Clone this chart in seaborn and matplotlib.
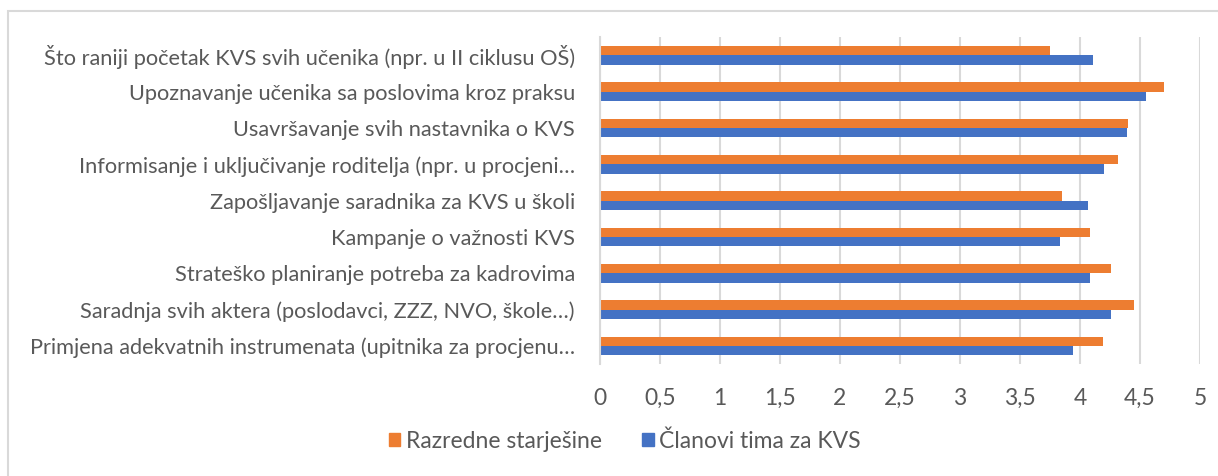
import matplotlib
matplotlib.use("Agg")
import matplotlib.pyplot as plt
import matplotlib.patches as mpatches
import numpy as np
import pandas as pd
import seaborn as sns

# data
categories = [
    "Što raniji početak KVS svih učenika (npr. u II ciklusu OŠ)",
    "Upoznavanje učenika sa poslovima kroz praksu",
    "Usavršavanje svih nastavnika o KVS",
    "Informisanje i uključivanje roditelja (npr. u procjeni…",
    "Zapošljavanje saradnika za KVS u školi",
    "Kampanje o važnosti KVS",
    "Strateško planiranje potreba za kadrovima",
    "Saradnja svih aktera (poslodavci, ZZZ, NVO, škole…)",
    "Primjena adekvatnih instrumenata (upitnika za procjenu…",
]
razredne = [3.75, 4.70, 4.40, 4.32, 3.85, 4.08, 4.26, 4.45, 4.19]
clanovi = [4.11, 4.55, 4.39, 4.20, 4.07, 3.83, 4.08, 4.26, 3.94]
series = ["Razredne starješine", "Članovi tima za KVS"]
xticks = [0, 0.5, 1, 1.5, 2, 2.5, 3, 3.5, 4, 4.5, 5]

df = pd.DataFrame({
    "kategorija": categories * 2,
    "vrijednost": razredne + clanovi,
    "serija": [series[0]] * len(categories) + [series[1]] * len(categories),
})

sns.set_style("white")
plt.rcParams["font.family"] = ["Lato", "DejaVu Sans"]
grey = "#595959"

fig = plt.figure(figsize=(12.18, 4.76), dpi=100)
ax = fig.add_axes([0.4926, 0.235, 0.4926, 0.687])

sns.barplot(data=df, y="kategorija", x="vrijednost", hue="serija",
            hue_order=series, order=categories, orient="h", width=0.52,
            palette=["#ED7D31", "#4472C4"], saturation=1, errorbar=None,
            linewidth=0, ax=ax)

ax.set_xlim(0, 5)
ax.set_xticks(xticks)
ax.set_xticklabels([f"{t:g}".replace(".", ",") for t in xticks])
ax.set_xlabel("")
ax.set_ylabel("")
ax.set_axisbelow(True)
ax.grid(axis="x", color="#d9d9d9", linewidth=1.5)
ax.grid(axis="y", visible=False)
for s in ["top", "right", "bottom"]:
    ax.spines[s].set_visible(False)
ax.spines["left"].set_color("#d9d9d9")
ax.spines["left"].set_linewidth(1.5)
ax.tick_params(axis="both", length=0, colors=grey)
ax.tick_params(axis="y", pad=18, labelsize=15.7)
ax.tick_params(axis="x", pad=17, labelsize=16.5)

ax.legend_.remove()
handles = [mpatches.Patch(color=c) for c in ["#ED7D31", "#4472C4"]]
fig.legend(handles, series, loc="center", bbox_to_anchor=(0.513, 0.074),
           ncol=2, frameon=False, fontsize=16.5, handlelength=0.5,
           handleheight=0.5, handletextpad=0.25, columnspacing=1.75,
           labelcolor=grey)

# outer chart frame
frame = mpatches.Rectangle((8 / 1218, -0.1), 1.2, 0.977 + 0.1,
                           transform=fig.transFigure, fill=False,
                           edgecolor="#d9d9d9", linewidth=1.5)
fig.patches.append(frame)

fig.savefig("out.png", dpi=100)
